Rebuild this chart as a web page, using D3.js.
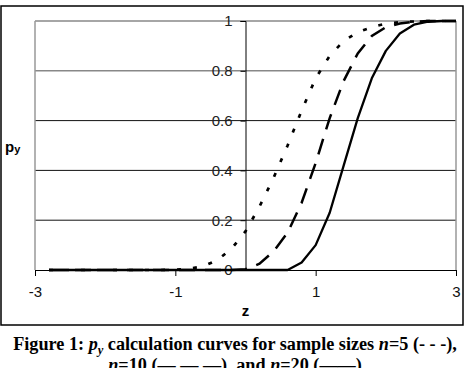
<!DOCTYPE html>
<html><head><meta charset="utf-8">
<script src="https://cdn.jsdelivr.net/npm/d3@7"></script>
<style>
html,body{margin:0;padding:0;background:#fff;overflow:hidden;}
svg{display:block;}
</style></head>
<body>
<svg id="chart" width="468" height="368"></svg>
<script>
// ---- data ----
const zValues = [-2.8,-2.6,-2.4,-2.2,-2.0,-1.8,-1.6,-1.4,-1.2,-1.0,-0.8,-0.6,-0.4,-0.2,0.0,0.2,0.4,0.6,0.8,1.0,1.2,1.4,1.6,1.8,2.0,2.2,2.4,2.6,2.8,3.0];
const pyN5  = [0,0,0,0,0,0,0,0,0,0.001,0.005,0.015,0.04,0.085,0.155,0.255,0.37,0.50,0.64,0.77,0.86,0.92,0.955,0.975,0.99,0.995,0.998,1,1,1];
const pyN10 = [0,0,0,0,0,0,0,0,0,0,0,0,0,0,0.003,0.025,0.075,0.15,0.27,0.43,0.61,0.76,0.87,0.94,0.975,0.99,0.997,1,1,1];
const pyN20 = [0,0,0,0,0,0,0,0,0,0,0,0,0,0,0,0,0,0,0.03,0.10,0.23,0.42,0.61,0.77,0.88,0.95,0.985,0.997,1,1];
const xTicks = [-3,-1,1,3];
const xTickLabels = ["-3","-1","1","3"];
const yTicks = [0,0.2,0.4,0.6,0.8,1];
const yTickLabels = ["0","0.2","0.4","0.6","0.8","1"];
const xTitle = "z";
const captionLine1 = [
  {t:"Figure 1: ", s:"normal"},
  {t:"p", s:"italic"},
  {t:"y", s:"italic", sub:true},
  {t:" calculation curves for sample sizes ", s:"normal"},
  {t:"n", s:"italic"},
  {t:"=5 (- - -),", s:"normal"}
];
const captionLine2 = [
  {t:"n", s:"italic"},
  {t:"=10 (\u2014 \u2014 \u2014), and ", s:"normal"},
  {t:"n", s:"italic"},
  {t:"=20 (\u2014\u2014)", s:"normal"}
];

const svg = d3.select("#chart");
const x = d3.scaleLinear().domain([-3,3]).range([35,456]);
const y = d3.scaleLinear().domain([0,1]).range([270,21]);

// outer chart border
svg.append("rect").attr("x",1).attr("y",6).attr("width",462).attr("height",319)
  .attr("fill","#fff").attr("stroke","#000").attr("stroke-width",1.5);

// gridlines
svg.append("g").selectAll("line").data(yTicks.filter(d=>d>0)).join("line")
  .attr("x1",x(-3)).attr("x2",x(3)).attr("y1",d=>y(d)).attr("y2",d=>y(d))
  .attr("stroke",d=>d>=0.8?"#888":"#111").attr("stroke-width",d=>d>=0.8?1.5:1);
// plot area border (left/right)
svg.append("line").attr("x1",x(-3)).attr("x2",x(-3)).attr("y1",y(1)).attr("y2",y(0)).attr("stroke","#999").attr("stroke-width",1.5);
svg.append("line").attr("x1",x(3)).attr("x2",x(3)).attr("y1",y(1)).attr("y2",y(0)).attr("stroke","#999").attr("stroke-width",1.5);

// x axis
const xAxis = svg.append("g").attr("transform",`translate(0,${y(0)})`)
  .call(d3.axisBottom(x).tickValues(xTicks).tickSize(6).tickPadding(10).tickFormat((d,i)=>xTickLabels[i]));
xAxis.select(".domain").attr("stroke","#000");
xAxis.selectAll(".tick line").attr("stroke","#000");
xAxis.selectAll("text").attr("font-family","Liberation Sans, Arial, sans-serif").attr("font-size",15).attr("fill","#111");

// y axis at z=0
const yAxis = svg.append("g").attr("transform",`translate(${x(0)},0)`)
  .call(d3.axisLeft(y).tickValues(yTicks).tickSize(5).tickPadding(8).tickFormat((d,i)=>yTickLabels[i]));
yAxis.select(".domain").attr("stroke","#000");
yAxis.selectAll(".tick line").attr("stroke","#000");
yAxis.selectAll("text").attr("font-family","Liberation Sans, Arial, sans-serif").attr("font-size",15).attr("fill","#222");

// lines
const line = d3.line().x((d,i)=>x(zValues[i])).y(d=>y(d));
svg.append("path").datum(pyN20).attr("d",line).attr("fill","none").attr("stroke","#000").attr("stroke-width",2.3).attr("stroke-linejoin","round");
svg.append("path").datum(pyN10).attr("d",line).attr("fill","none").attr("stroke","#000").attr("stroke-width",2.5).attr("stroke-dasharray","16,10");
svg.append("path").datum(pyN5).attr("d",line).attr("fill","none").attr("stroke","#000").attr("stroke-width",2.7).attr("stroke-dasharray","4,12");

// axis titles
svg.append("text").attr("x",x(0)).attr("y",316).attr("text-anchor","middle")
  .attr("font-family","Liberation Sans, Arial, sans-serif").attr("font-weight","bold").attr("font-size",15).text(xTitle);
const yt = svg.append("text").attr("x",5).attr("y",152)
  .attr("font-family","Liberation Sans, Arial, sans-serif").attr("font-weight","bold").attr("font-size",15);
yt.append("tspan").text("p");
yt.append("tspan").attr("font-size",11).attr("dy",1).text("y");

// caption
function caption(parts, yPos){
  const t = svg.append("text").attr("x",235).attr("y",yPos).attr("text-anchor","middle")
    .attr("font-family","Liberation Serif, Times New Roman, serif").attr("font-weight","bold").attr("font-size",18.2);
  parts.forEach((p,i)=>{
    const ts = t.append("tspan").attr("font-style",p.s).text(p.t);
    if(p.sub){ ts.attr("font-size",12.5).attr("dy",4); }
    else if(i>0 && parts[i-1].sub){ ts.attr("dy",-4); }
  });
}
caption(captionLine1, 350);
caption(captionLine2, 371);
</script>
</body></html>
